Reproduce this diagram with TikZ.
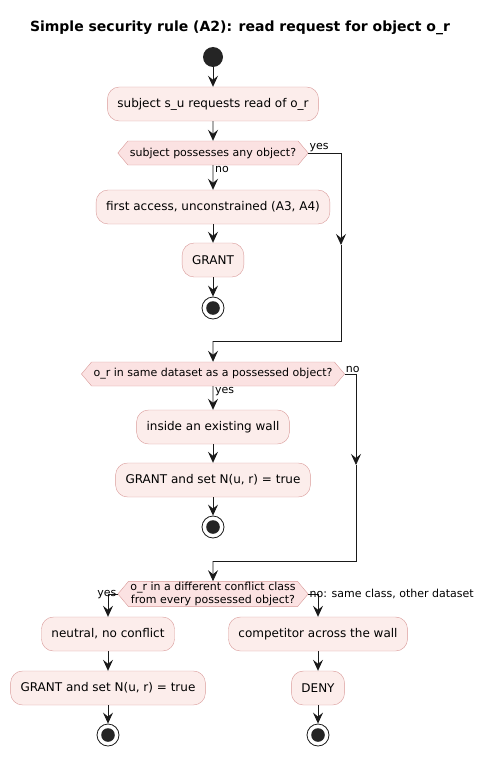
\documentclass[tikz,border=0pt]{standalone}
\usepackage{fontspec}
\setmainfont{DejaVu Sans}
\usetikzlibrary{arrows.meta,shapes.symbols}
\definecolor{actfill}{HTML}{FCEDEB}
\definecolor{actline}{HTML}{D99A99}
\definecolor{decfill}{HTML}{FBE2E2}
\definecolor{ink}{HTML}{1A1A1A}
\tikzset{
  act/.style={draw=actline, fill=actfill, rounded corners=12pt, minimum height=34pt,
    inner xsep=10pt, font=\fontsize{12}{14}\selectfont},
  dec/.style={signal, signal to=west and east, signal pointer angle=100, draw=actline,
    fill=decfill, minimum height=24pt, inner xsep=2pt, inner ysep=1pt, align=center,
    font=\fontsize{11}{12.5}\selectfont},
  lbl/.style={inner sep=1pt, font=\fontsize{11}{12}\selectfont},
  flow/.style={draw=ink, line width=0.9pt, -{Stealth[length=11pt,width=10pt,inset=4pt]}},
  plain/.style={draw=ink, line width=0.9pt},
  startnode/.style={circle, fill=ink!95, minimum size=20pt, inner sep=0pt},
  endnode/.style={circle, draw=ink, line width=0.8pt, fill=white, minimum size=22pt, inner sep=0pt,
    path picture={\fill[ink!95] (path picture bounding box.center) circle (6.8pt);}}
}
\begin{document}
\begin{tikzpicture}[x=1pt,y=-1pt]
  \useasboundingbox (0,0) rectangle (482,757);
  \node[font=\fontsize{14}{16}\selectfont\bfseries] (title) at (240,28) {Simple security rule (A2): read request for object o\_r};
  \node[startnode] (start) at (213,57) {};
  \node[act] (req) at (213,104) {subject s\_u requests read of o\_r};
  \node[dec] (any) at (213,153) {subject possesses any object?};
  \node[act] (first) at (213,207) {first access, unconstrained (A3, A4)};
  \node[act] (grantA) at (213,260) {GRANT};
  \node[endnode] (stopA) at (213,308) {};
  \node[dec] (same) at (213,374) {o\_r in same dataset as a possessed object?};
  \node[act] (inside) at (213,427) {inside an existing wall};
  \node[act] (grantB) at (213,480) {GRANT and set N(u, r) = true};
  \node[endnode] (stopB) at (213,527) {};
  \node[dec] (diff) at (213,594) {o\_r in a different conflict class\\from every possessed object?};
  \node[act] (neutral) at (108,634) {neutral, no conflict};
  \node[act] (grantC) at (108,688) {GRANT and set N(u, r) = true};
  \node[endnode] (stopC) at (108,735) {};
  \node[act] (rival) at (318,634) {competitor across the wall};
  \node[act] (deny) at (318,688) {DENY};
  \node[endnode] (stopD) at (318,735) {};

  \coordinate (yesA) at (341,245);
  \coordinate (joinA) at (213,341);
  \coordinate (noB) at (356,465);
  \coordinate (joinB) at (213,561);

  \draw[flow] (start) -- (req);
  \draw[flow] (req) -- (any);
  \draw[flow] (any) -- (first);
  \draw[flow] (first) -- (grantA);
  \draw[flow] (grantA) -- (stopA);
  \draw[flow] (any.east) -| (yesA);
  \draw[plain] (yesA) |- (joinA);
  \draw[flow] (joinA) -- (same);
  \draw[flow] (same) -- (inside);
  \draw[flow] (inside) -- (grantB);
  \draw[flow] (grantB) -- (stopB);
  \draw[flow] (same.east) -| (noB);
  \draw[plain] (noB) |- (joinB);
  \draw[flow] (joinB) -- (diff);
  \draw[flow] (diff.west) -| (neutral);
  \draw[flow] (neutral) -- (grantC);
  \draw[flow] (grantC) -- (stopC);
  \draw[flow] (diff.east) -| (rival);
  \draw[flow] (rival) -- (deny);
  \draw[flow] (deny) -- (stopD);

  \node[lbl, anchor=south west] (lyesA) at (any.east) {yes};
  \node[lbl, anchor=north west] (lnoA) at ([xshift=1pt]any.south) {no};
  \node[lbl, anchor=south west] (lnoB) at (same.east) {no};
  \node[lbl, anchor=north west] (lyesB) at ([xshift=1pt]same.south) {yes};
  \node[lbl, anchor=south east] (lyesC) at ([yshift=-6pt]diff.west) {yes};
  \node[lbl, anchor=south west] (lnoC) at ([yshift=-6pt]diff.east) {no: same class, other dataset};
\end{tikzpicture}
\end{document}
